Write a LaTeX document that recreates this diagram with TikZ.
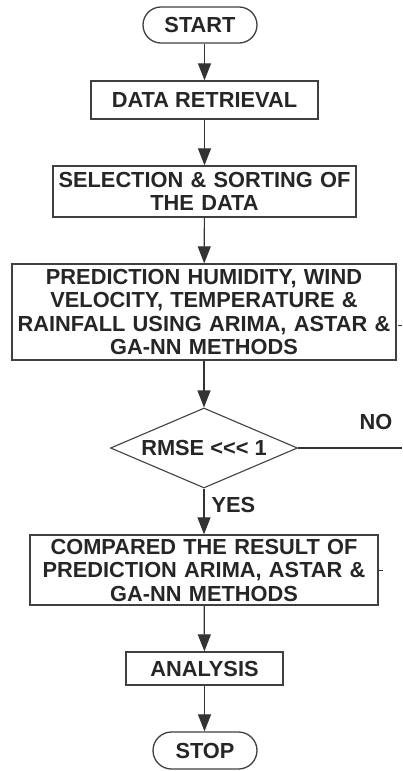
\documentclass[tikz,border=0pt]{standalone}
\usepackage{fontspec}
\setmainfont{Liberation Sans}
\usetikzlibrary{shapes.geometric,shapes.misc,arrows.meta}
\begin{document}
\begin{tikzpicture}[x=1pt,y=-1pt,
  every node/.style={font=\fontsize{21.8}{23.5}\selectfont\bfseries, text=black!85},
  box/.style={draw=black!75, line width=1.3pt, rectangle, inner sep=0pt, align=center},
  term/.style={draw=black!75, line width=1.3pt, rounded rectangle, inner sep=0pt},
  dec/.style={draw=black!75, line width=1.1pt, diamond, inner sep=0pt, aspect=2.34},
  conn/.style={draw=black!80, line width=1.2pt},
  arr/.style={conn, -{Triangle[length=17pt,width=13pt]}}]
\useasboundingbox (0,0) rectangle (402,771);
\node[term, minimum width=114, minimum height=36] (start) at (200,25) {START};
\node[box, minimum width=227, minimum height=38] (dr) at (204.5,100) {DATA RETRIEVAL};
\node[box, minimum width=303, minimum height=51, text width=299] (sel) at (204.5,191.5) {SELECTION \& SORTING OF\\THE DATA};
\node[box, minimum width=384, minimum height=96, text width=380] (pred) at (204,312) {PREDICTION HUMIDITY, WIND\\VELOCITY, TEMPERATURE \&\\RAINFALL USING ARIMA, ASTAR \&\\GA-NN METHODS};
\node[dec, minimum width=187, minimum height=80] (rmse) at (204,448) {RMSE {<}{<}{<} 1};
\node[box, minimum width=348, minimum height=70, text width=344] (cmp) at (204,570) {COMPARED THE RESULT OF\\PREDICTION ARIMA, ASTAR \&\\GA-NN METHODS};
\node[box, minimum width=157, minimum height=33] (ana) at (204.5,668.5) {ANALYSIS};
\node[term, minimum width=104, minimum height=37] (stop) at (205,750.5) {STOP};
\node[anchor=west] (yes) at (208,505) {YES};
\node (no) at (376,422) {NO};
\coordinate (noend) at (402,448);
\coordinate (predstub) at (402,325);
\coordinate (cmpstub) at (383,570);
\draw[arr] (start.south -| dr.north) -- (dr.north);
\draw[arr] (dr) -- (sel);
\draw[arr] (sel) -- (pred);
\draw[arr] (pred) -- (rmse);
\draw[arr] (rmse) -- (cmp);
\draw[arr] (cmp) -- (ana);
\draw[arr] (ana.south) -- (ana.south |- stop.north);
\draw[conn] (rmse.east) -- (noend);
\draw[conn, line width=0.8pt] (predstub) -- ++(-4,0);
\draw[conn, line width=0.8pt] (cmpstub) -- (cmpstub -| cmp.east);
\end{tikzpicture}
\end{document}
